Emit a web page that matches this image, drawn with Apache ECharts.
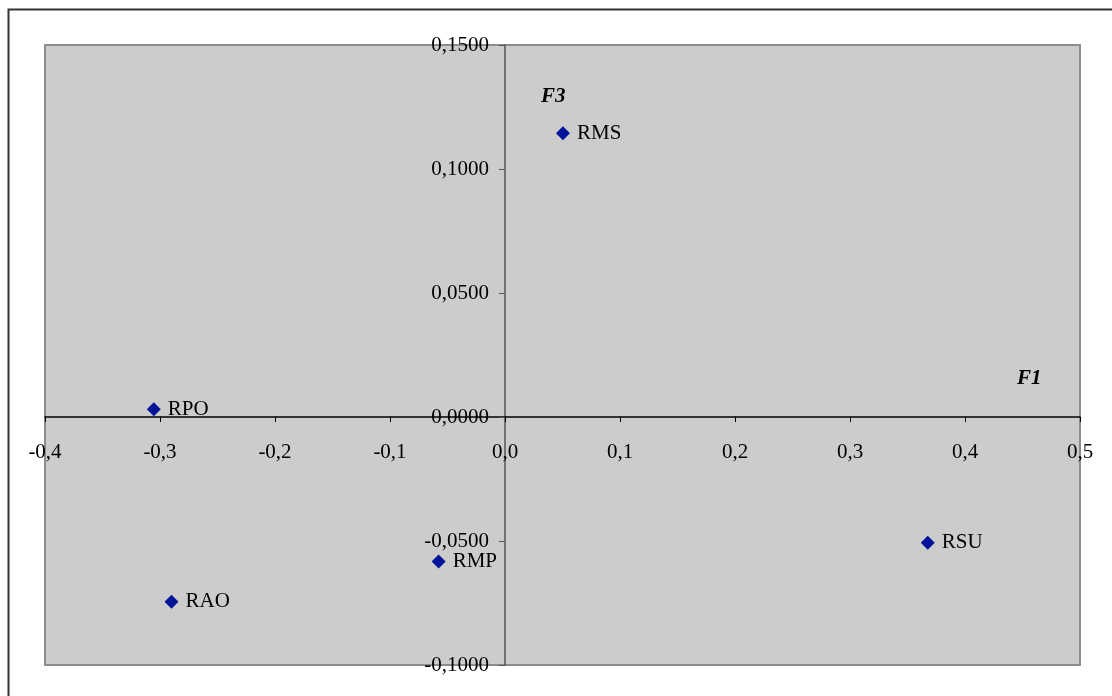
<!DOCTYPE html>
<html>
<head>
<meta charset="utf-8">
<script src="https://cdn.jsdelivr.net/npm/echarts@6/dist/echarts.min.js"></script>
<style>
html,body{margin:0;padding:0;background:#fff;}
#c{width:1112px;height:696px;}
</style>
</head>
<body>
<div id="c"></div>
<script>
const names = ['RMS', 'RPO', 'RMP', 'RAO', 'RSU'];
const f1Values = [0.0504, -0.3054, -0.0577, -0.2900, 0.3676];
const f3Values = [0.1144, 0.0031, -0.0583, -0.0745, -0.0507];
const xTicks = { min: -0.4, max: 0.5, interval: 0.1 };
const yTicks = { min: -0.1, max: 0.15, interval: 0.05 };
const xAxisTitle = 'F1';
const yAxisTitle = 'F3';

const points = names.map((n, i) => ({ name: n, value: [f1Values[i], f3Values[i]] }));
const FONT = '"Liberation Serif", "DejaVu Serif", serif';

const W = 1112, H = 696;
const G = { left: 45, top: 45, right: 32, bottom: 31 };
const gridW = W - G.left - G.right;
const gridH = H - G.top - G.bottom;
// place the axes so they cross at zero (axis offset from grid edge)
const xAxisOffset = -gridH * (0 - yTicks.min) / (yTicks.max - yTicks.min);
const yAxisOffset = -gridW * (0 - xTicks.min) / (xTicks.max - xTicks.min);

const chart = echarts.init(document.getElementById('c'), null, { renderer: 'canvas' });
chart.setOption({
  animation: false,
  backgroundColor: '#ffffff',
  graphic: [
    { type: 'rect', left: 6, top: 7, z: -10, silent: true,
      shape: { width: 1200, height: 800 },
      style: { fill: 'none', stroke: '#333', lineWidth: 2 } },
    { type: 'text', left: 541, top: 86, z: 100,
      style: { text: yAxisTitle, font: 'italic bold 21px ' + FONT, fill: '#000' } },
    { type: 'text', left: 1017, top: 368, z: 100,
      style: { text: xAxisTitle, font: 'italic bold 21px ' + FONT, fill: '#000' } }
  ],
  grid: {
    left: G.left, top: G.top, right: G.right, bottom: G.bottom,
    outerBoundsMode: 'none',
    show: true, backgroundColor: '#cccccc', borderColor: '#8c8c8c', borderWidth: 2,
    containLabel: false
  },
  xAxis: {
    type: 'value', min: xTicks.min, max: xTicks.max, interval: xTicks.interval,
    position: 'bottom', offset: xAxisOffset,
    axisLine: { show: true, onZero: false, lineStyle: { color: '#000', width: 1.5 } },
    axisTick: { show: true, length: 5, inside: false, lineStyle: { color: '#000' } },
    axisLabel: {
      margin: 25, fontFamily: FONT, fontSize: 21, color: '#000', hideOverlap: false,
      formatter: v => v.toFixed(1).replace('.', ',').replace('-0,0', '0,0')
    },
    splitLine: { show: false }
  },
  yAxis: {
    type: 'value', min: yTicks.min, max: yTicks.max, interval: yTicks.interval,
    position: 'left', offset: yAxisOffset,
    axisLine: { show: true, onZero: false, lineStyle: { color: '#555', width: 1.5 } },
    axisTick: { show: true, length: 6, inside: false, lineStyle: { color: '#555' } },
    axisLabel: {
      margin: 16, fontFamily: FONT, fontSize: 21, color: '#000', hideOverlap: false,
      formatter: v => v.toFixed(4).replace('.', ',').replace('-0,0000', '0,0000')
    },
    splitLine: { show: false }
  },
  series: [{
    type: 'scatter',
    data: points,
    symbol: 'diamond',
    symbolSize: 14,
    itemStyle: { color: '#00149a', opacity: 1 },
    label: {
      show: true, position: 'right', distance: 7,
      formatter: p => p.name,
      fontFamily: FONT, fontSize: 21, color: '#000'
    }
  }]
});
</script>
</body>
</html>
